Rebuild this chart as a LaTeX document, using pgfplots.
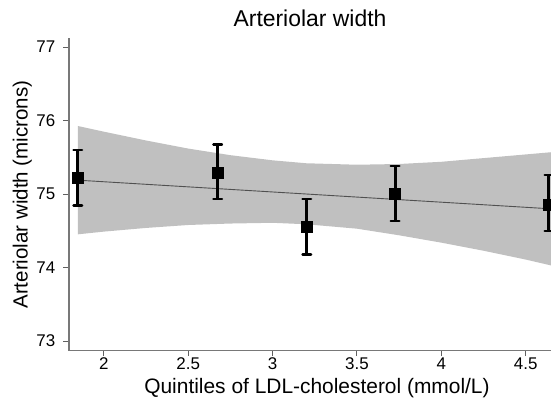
\documentclass[border=0pt]{standalone}
\usepackage{fontspec}
\setmainfont{Liberation Sans}
\usepackage{pgfplots}
\pgfplotsset{compat=1.18}
\definecolor{bandgray}{RGB}{192,192,192}
\definecolor{axgray}{RGB}{120,120,120}
\definecolor{fitgray}{RGB}{80,80,80}
\newcommand{\tickfont}{\fontsize{17}{19}\selectfont}
\begin{document}
\begin{tikzpicture}
\begin{axis}[
  scale only axis,
  width=482bp, height=312.4bp,
  xmin=1.794, xmax=4.65,
  ymin=72.87, ymax=77.12,
  axis lines=left,
  axis line style={-, draw=axgray, line width=1.1bp},
  clip=true,
  xtick={2,2.5,3,3.5,4,4.5},
  ytick={73,74,75,76,77},
  xticklabels={2,2.5,3,3.5,4,4.5},
  yticklabels={73,74,75,76,77},
  tick align=outside,
  major tick length=5.5bp,
  tick style={draw=axgray!80!black, line width=1bp},
  /pgf/number format/assume math mode=true,
  xticklabel style={font=\tickfont, anchor=base, inner sep=0pt, yshift=-13.5bp},
  yticklabel style={font=\tickfont, anchor=east, inner sep=0pt, xshift=-8bp},
  title={Arteriolar width},
  title style={font=\fontsize{23}{26}\selectfont, at={(axis description cs:0.5,1.018)}, anchor=base, inner sep=0pt},
  xlabel={Quintiles of LDL-cholesterol (mmol/L)},
  xlabel style={font=\fontsize{21}{24}\selectfont, at={(axis description cs:0.5145,-0.1354)}, anchor=base, inner sep=0pt},
  ylabel={Arteriolar width (microns)},
  ylabel style={font=\fontsize{20.6}{24}\selectfont, at={(axis description cs:-0.0768,0.5)}, anchor=south, inner sep=0pt},
]
\coordinate (ll) at (rel axis cs:0,0);
\coordinate (ur) at (rel axis cs:1,1);
% confidence band
\addplot[fill=bandgray, draw=none] coordinates {
 (1.846,75.927) (2.0,75.85) (2.25,75.73) (2.5,75.62) (2.75,75.53) (3.0,75.46)
 (3.2,75.42) (3.5,75.40) (3.75,75.41) (4.0,75.44) (4.25,75.49) (4.5,75.54) (4.65,75.57)
 (4.65,74.03) (4.5,74.11) (4.25,74.23) (4.0,74.34) (3.75,74.44) (3.5,74.53)
 (3.2,74.59) (3.0,74.61) (2.75,74.60) (2.5,74.58) (2.25,74.54) (2.0,74.49) (1.846,74.453)
} -- cycle;
% fitted line
\addplot[draw=fitgray, line width=0.9bp] coordinates {(1.846,75.19) (4.65,74.80)};
% means with CIs
\addplot[only marks, mark=square*, mark size=5.6bp, black,
  error bars/.cd, y dir=both, y explicit,
  error bar style={line width=3bp, black},
  error mark options={rotate=90, mark size=4.3bp, line width=2.4bp, line cap=round, black}]
 table[x=x, y=y, y error plus=ep, y error minus=em] {
 x y ep em
 1.846 75.226 0.374 0.381
 2.675 75.294 0.382 0.364
 3.203 74.560 0.370 0.380
 3.726 75.004 0.376 0.368
 4.638 74.860 0.400 0.360
};
\end{axis}
\pgfresetboundingbox
\path ([shift={(-69bp,-48.3bp)}]ll) rectangle ([shift={(0bp,38.3bp)}]ur);
\end{tikzpicture}
\end{document}
